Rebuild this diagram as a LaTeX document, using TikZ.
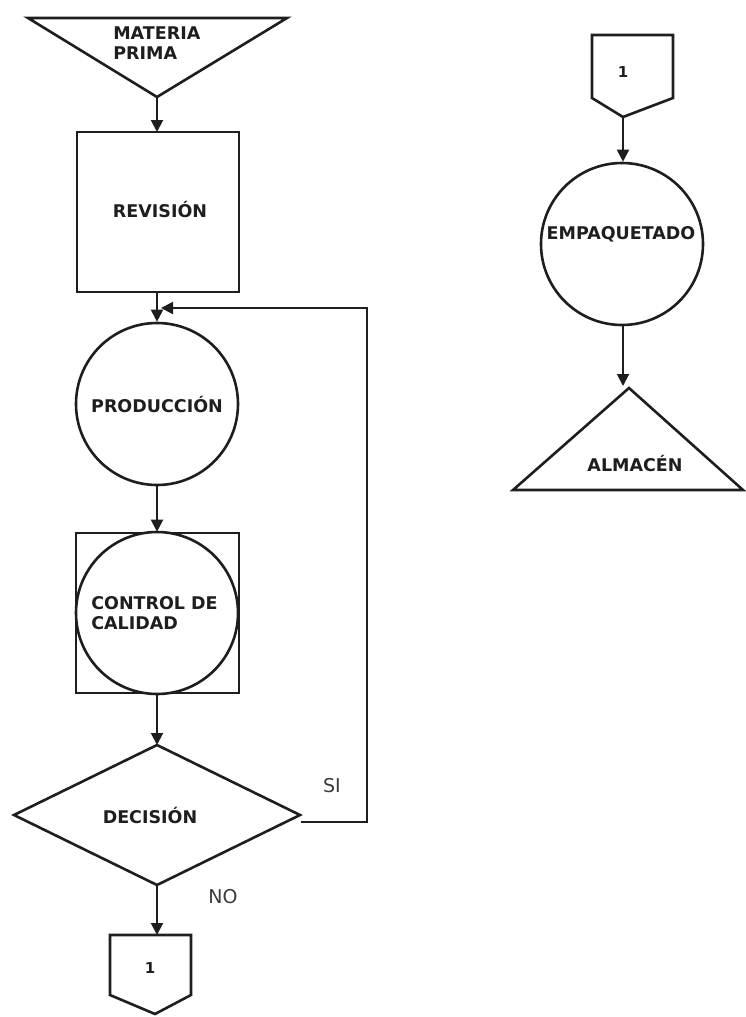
\documentclass[tikz,border=0pt]{standalone}
\usepackage{fontspec}
\setmainfont{DejaVu Sans}
\usetikzlibrary{arrows.meta,shapes.geometric}
\definecolor{ink}{HTML}{1E1E1E}
\definecolor{labelgrey}{HTML}{3A3A3A}
\begin{document}
\begin{tikzpicture}[x=1pt,y=-1pt,
  line width=2.6pt, draw=ink,
  flow/.style={draw=ink,line width=2pt,-{Triangle[length=12pt,width=12pt]}},
  shapeline/.style={draw=ink,line width=2.6pt,fill=white,line join=miter},
  tag/.style={font=\bfseries\fontsize{17.5}{20}\selectfont,text=ink,inner sep=0pt},
  tagleft/.style={tag,align=left},
  numtag/.style={font=\bfseries\fontsize{15}{17}\selectfont,text=ink,inner sep=0pt},
  branch/.style={font=\fontsize{19}{22}\selectfont,text=labelgrey,inner sep=0pt},
  procbox/.style={shapeline,rectangle,inner sep=0pt},
  proccircle/.style={shapeline,circle,inner sep=0pt,minimum size=162pt}]
\useasboundingbox (0,0) rectangle (745,1017);

% --- left column -------------------------------------------------------
% raw material (inverted triangle)
\draw[shapeline] (28,18) -- (287,18) -- (157,97) -- cycle;
\coordinate (mp) at (157,97);
\node[tagleft,anchor=north west] (mptxt) at (112,25) {MATERIA\\PRIMA};

% inspection box
\node[procbox,minimum width=162pt,minimum height=160pt] (rev) at (158,212) {};
\node[tag] (revtxt) at (160,210) {REVISIÓN};

% production
\node[proccircle] (prod) at (157,404) {};
\node[tag] (prodtxt) at (157,405) {PRODUCCIÓN};

% quality control: circle inside a square
\node[procbox,minimum width=163pt,minimum height=160pt] (qcbox) at (157.5,613) {};
\node[proccircle] (qc) at (157,613) {};
\node[tagleft,anchor=west] (qctxt) at (90,613) {CONTROL DE\\CALIDAD};

% decision diamond
\draw[shapeline] (14,815) -- (157,745) -- (300,815) -- (157,885) -- cycle;
\coordinate (dectop) at (157,745);
\coordinate (decright) at (301,822);
\coordinate (decbot) at (157,885);
\node[tag] (dectxt) at (150,815) {DECISIÓN};

% off-page connector (out)
\draw[shapeline] (110,935) -- (191,935) -- (191,995) -- (155,1014) -- (110,995) -- cycle;
\coordinate (conAtop) at (157,935);
\node[numtag] (conAtxt) at (150,968) {1};

% branch labels
\node[branch] (si) at (332,786) {SI};
\node[branch] (no) at (223,897) {NO};

% connectors of the left column
\draw[flow] (mp) -- (157,132);
\draw[flow] (rev.south -| prod.north) -- (prod.north);
\draw[flow] (prod.south) -- (qcbox.north -| prod.south);
\draw[flow] (qcbox.south -| dectop) -- (dectop);
\draw[flow] (decbot) -- (conAtop);

% loop back when the check passes
\coordinate (loopA) at (367,822);
\coordinate (loopB) at (367,308);
\coordinate (loopEnd) at (161,308);
\draw[flow] (decright) -- (loopA) -- (loopB) -- (loopEnd);

% --- right column ------------------------------------------------------
% off-page connector (in)
\draw[shapeline] (592,35) -- (673,35) -- (673,98) -- (623,117) -- (592,98) -- cycle;
\coordinate (conBbot) at (623,117);
\node[numtag] (conBtxt) at (623,72) {1};

% packaging
\node[proccircle] (pack) at (622,244) {};
\node[tag] (packtxt) at (621,234) {EMPAQUETADO};

% storage (triangle)
\draw[shapeline] (629,388) -- (743,490) -- (513,490) -- cycle;
\coordinate (storeapex) at (623,386);
\node[tag] (storetxt) at (635,464) {ALMACÉN};

\draw[flow] (conBbot) -- (pack.north -| conBbot);
\draw[flow] (pack.south -| conBbot) -- (storeapex);
\end{tikzpicture}
\end{document}
